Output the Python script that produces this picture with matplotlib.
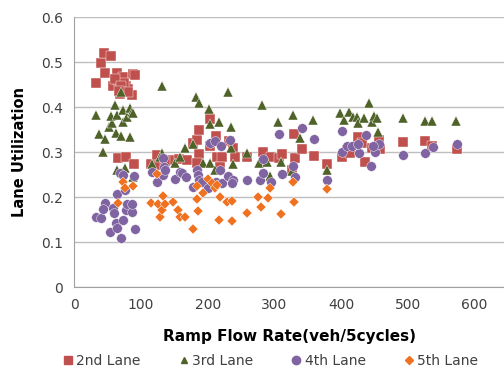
import matplotlib
matplotlib.use('Agg')
import matplotlib.pyplot as plt
from matplotlib.lines import Line2D

# 2nd lane
x2 = [32.5, 39.5, 44.5, 54.5, 46.5, 58.5, 63.5, 66, 68.5, 73.5, 77.5, 81, 86, 88.5, 91, 74.5,
      66, 77, 90, 114.5, 124.5, 127.5, 147, 157, 168.5, 177.5, 184.5, 187.5, 186.5, 183.5,
      203.5, 203.5, 212.5, 214.5, 221, 218.5, 232.5, 237.5, 241, 259.5, 283.5, 294.5, 307.5,
      312, 329, 331, 341, 326.5, 359.5, 379, 402, 408.5, 426, 431, 436, 446, 457.5, 458.5,
      493.5, 526, 536, 574.5, 413.5, 136, 61, 70, 80, 67]
y2 = [0.453, 0.499, 0.520, 0.515, 0.476, 0.447, 0.476, 0.461, 0.429, 0.468, 0.447, 0.440,
      0.427, 0.474, 0.472, 0.453, 0.287, 0.289, 0.274, 0.274, 0.293, 0.272, 0.283, 0.284,
      0.283, 0.320, 0.327, 0.350, 0.296, 0.276, 0.374, 0.313, 0.337, 0.290, 0.290, 0.268,
      0.324, 0.309, 0.290, 0.290, 0.301, 0.290, 0.287, 0.296, 0.341, 0.287, 0.307, 0.261,
      0.292, 0.274, 0.290, 0.305, 0.333, 0.320, 0.278, 0.309, 0.327, 0.307, 0.322, 0.324,
      0.313, 0.307, 0.298, 0.280, 0.462, 0.448, 0.433, 0.437]

# 3rd lane
x3 = [32, 37.5, 42.5, 46.5, 52.5, 56, 55, 61, 62.5, 64.5, 69.5, 69.5, 72.5, 73.5, 78.5,
      83.5, 86, 88.5, 83.5, 63.5, 76, 88.5, 116, 132, 132, 128.5, 151, 158.5, 166, 177.5,
      182, 187, 201.5, 203.5, 193.5, 203.5, 217.5, 230.5, 234.5, 235, 238.5, 211, 258.5,
      277.5, 281, 288.5, 293.5, 306, 310, 327.5, 326, 338.5, 357.5, 378.5, 398.5, 404.5,
      412.5, 417.5, 424.5, 426, 434.5, 442.5, 446, 449.5, 454.5, 455, 492.5, 526, 536, 572.5]
y3 = [0.383, 0.340, 0.301, 0.329, 0.357, 0.366, 0.381, 0.404, 0.342, 0.383, 0.336, 0.435,
      0.368, 0.394, 0.379, 0.398, 0.390, 0.388, 0.335, 0.261, 0.264, 0.246, 0.274, 0.447,
      0.298, 0.290, 0.277, 0.290, 0.309, 0.319, 0.422, 0.409, 0.396, 0.363, 0.276, 0.276,
      0.368, 0.433, 0.356, 0.309, 0.273, 0.261, 0.299, 0.276, 0.405, 0.279, 0.248, 0.367,
      0.279, 0.383, 0.259, 0.331, 0.372, 0.261, 0.387, 0.372, 0.390, 0.379, 0.378, 0.364,
      0.376, 0.409, 0.368, 0.381, 0.376, 0.346, 0.377, 0.370, 0.370, 0.370]

# 4th lane
x4 = [32.5, 39.5, 46.5, 43.5, 53.5, 58.5, 59.5, 62.5, 64.5, 63.5, 69.5, 68.5, 73.5, 73.5,
      76, 77.5, 78.5, 86, 87, 90, 91, 116, 123.5, 132.5, 135, 133.5, 136, 151, 158.5, 161,
      167.5, 177.5, 183.5, 186, 187.5, 191, 201, 203.5, 211, 219.5, 218.5, 212.5, 221,
      233.5, 231, 238.5, 236, 259.5, 278.5, 282.5, 283.5, 294.5, 307.5, 312, 328.5, 331,
      341, 359.5, 378.5, 402, 401, 408.5, 416, 427.5, 426, 437, 444.5, 451, 457.5, 447.5,
      493.5, 526, 537.5, 574.5]
y4 = [0.156, 0.153, 0.187, 0.173, 0.122, 0.176, 0.164, 0.142, 0.207, 0.131, 0.109, 0.255,
      0.250, 0.150, 0.216, 0.172, 0.185, 0.168, 0.185, 0.248, 0.130, 0.257, 0.235, 0.288,
      0.268, 0.250, 0.261, 0.241, 0.257, 0.253, 0.246, 0.222, 0.261, 0.250, 0.239, 0.235,
      0.220, 0.320, 0.324, 0.315, 0.261, 0.235, 0.231, 0.327, 0.247, 0.239, 0.231, 0.239,
      0.239, 0.284, 0.253, 0.233, 0.340, 0.252, 0.270, 0.244, 0.355, 0.329, 0.239, 0.347,
      0.301, 0.313, 0.315, 0.298, 0.318, 0.339, 0.270, 0.301, 0.318, 0.314, 0.294, 0.299,
      0.311, 0.318]

# 5th lane
x5 = [66, 72.5, 76, 88.5, 114.5, 123.5, 126, 128.5, 133.5, 131, 136, 148.5, 156, 158.5,
      166, 178.5, 183.5, 184.5, 185, 193.5, 201, 206, 211, 213.5, 218.5, 217.5, 228.5, 237,
      236, 258.5, 276, 280, 291, 293.5, 310, 327.5, 329.5, 378.5]
y5 = [0.187, 0.233, 0.220, 0.225, 0.188, 0.252, 0.185, 0.157, 0.203, 0.172, 0.185, 0.190,
      0.172, 0.157, 0.157, 0.130, 0.224, 0.196, 0.170, 0.209, 0.240, 0.231, 0.220, 0.227,
      0.200, 0.150, 0.190, 0.192, 0.148, 0.164, 0.201, 0.178, 0.199, 0.220, 0.162, 0.235,
      0.189, 0.219]

labels = ['2nd Lane', '3rd Lane', '4th Lane', '5th Lane']
colors = ['#C0504D', '#4F6228', '#8064A2', '#F0711F']

fig = plt.figure(figsize=(5.04, 3.68), dpi=100)
ax = fig.add_axes([0.1475, 0.2193, 0.8526, 0.7337])

ax.plot(x2, y2, 's', color=colors[0], ms=6.6, mec='white', mew=0.3, ls='none')
ax.plot(x3, y3, '^', color=colors[1], ms=6.7, mec='white', mew=0.3, ls='none')
ax.plot(x4, y4, 'o', color=colors[2], ms=7.0, mec='white', mew=0.3, ls='none')
ax.plot(x5, y5, 'D', color=colors[3], ms=5.0, mec='white', mew=0.3, ls='none')

ax.set_xlim(0, 644.5)
ax.set_ylim(0, 0.6)
ax.set_xticks([0, 100, 200, 300, 400, 500, 600])
ax.set_yticks([0, 0.1, 0.2, 0.3, 0.4, 0.5, 0.6])
ax.set_yticklabels(['0', '0.1', '0.2', '0.3', '0.4', '0.5', '0.6'])
ax.grid(axis='y', color='#BEBEBE', lw=1)
ax.set_axisbelow(True)
for s in ['top', 'right']:
    ax.spines[s].set_visible(False)
ax.spines['left'].set_color('#A0A0A0')
ax.spines['bottom'].set_color('#A0A0A0')
ax.tick_params(length=0, labelsize=10, colors='#404040', pad=8)

ax.set_xlabel('Ramp Flow Rate(veh/5cycles)', fontsize=11, fontweight='bold', labelpad=12)
ax.set_ylabel('Lane Utilization', fontsize=10.5, fontweight='bold', labelpad=10)

handles = [
    Line2D([], [], marker='s', color=colors[0], ls='none', ms=6),
    Line2D([], [], marker='^', color=colors[1], ls='none', ms=5),
    Line2D([], [], marker='o', color=colors[2], ls='none', ms=6),
    Line2D([], [], marker='D', color=colors[3], ls='none', ms=4),
]
fig.legend(handles, labels, loc='center', bbox_to_anchor=(0.535, 0.02), ncol=4,
           frameon=False, fontsize=10, handletextpad=0.1, columnspacing=2.6,
           handlelength=1.0, labelcolor='#404040')

fig.savefig('out.png', dpi=100)
